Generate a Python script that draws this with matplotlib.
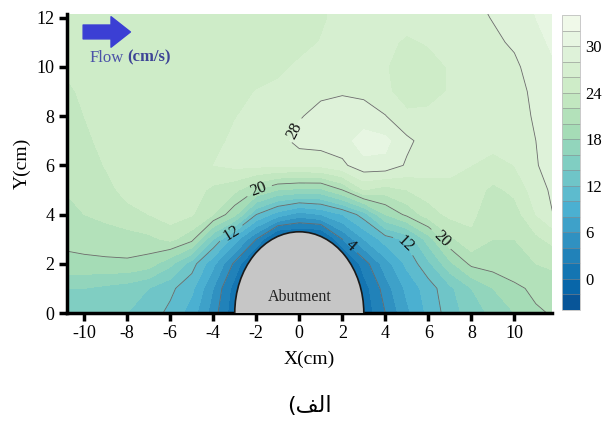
import numpy as np
import matplotlib
matplotlib.use("Agg")
import matplotlib.pyplot as plt
from matplotlib.colors import ListedColormap
from matplotlib.patches import Ellipse, FancyArrowPatch

plt.rcParams['font.family'] = ['Liberation Serif', 'DejaVu Sans']
plt.rcParams['axes.unicode_minus'] = False

# ---- data (velocity field, cm/s) ----
x_grid = [-11, -10, -9, -8, -7, -6, -5, -4, -3, -2, -1, 0, 1, 2, 3, 4, 5, 6, 7, 8, 9, 10, 11, 12]
y_grid = [0, 1, 2, 3, 4, 5, 6, 7, 8, 9, 10, 11, 12, 13]
v_y0 = [15, 15, 14.5, 14, 13, 11.5, 9, 5, 0.5, -2, -2, -2, -2, -2, 0.5, 4, 7.5, 10.5, 13, 15, 16.5, 18, 19.7, 20.3]
v_y1 = [16, 16, 15.5, 15, 14, 12.5, 10.5, 6, 1, -2, -2, -2, -2, -2, 1, 5, 8.5, 11, 13.5, 16, 18, 19.5, 20.5, 21]
v_y2 = [19.4, 19.5, 19.6, 19.7, 19, 16.5, 13, 8.5, 3.5, -2, -2, -2, -2, -2, 3, 7, 10.5, 13.5, 17.5, 20.5, 21, 21.5, 22, 22.5]
v_y3 = [20.5, 20.8, 21, 21, 21.5, 22.5, 20.7, 14, 9, 4, -2, -2, -2, 4, 8, 11, 12.5, 17, 21.5, 23.5, 22, 22, 23.5, 25]
v_y4 = [21.5, 22, 22.5, 23.5, 24, 25, 24.2, 22, 18.5, 12, 9, 7, 8, 10, 13, 18, 20.5, 23, 24.5, 24.5, 22.5, 23, 26, 28.5]
v_y5 = [22, 22.5, 23.5, 24.5, 25, 25.2, 25, 23.5, 22.5, 20, 18, 17.5, 17.5, 20, 24, 23, 24, 25, 25.5, 25, 23.5, 24.5, 27, 28.8]
v_y6 = [22.5, 23.2, 24.1, 24.5, 25, 25.5, 25.5, 26, 26.5, 26.5, 26.3, 26.3, 26.5, 27.5, 29.5, 29.5, 27.7, 27, 26.5, 26, 25.5, 26, 27.8, 29.5]
v_y7 = [23, 23.7, 24.4, 24.8, 25, 25, 25.3, 25.7, 26.2, 26.5, 27, 28.8, 29, 29.3, 30.8, 30.5, 28.5, 27, 26.5, 26.5, 26.5, 27, 28, 29.5]
v_y8 = [23.3, 24, 24.6, 25, 25, 25, 25, 25.3, 25.95, 26.3, 26.8, 27.8, 28.8, 29, 29, 28.1, 26.2, 26.3, 26.7, 26.8, 26.8, 27, 28.3, 29.5]
v_y9 = [23.7, 24.2, 24.8, 25, 25, 25, 25, 25, 25.4, 26.05, 26.3, 27, 27.5, 27.8, 27.5, 26.2, 25.5, 25.5, 26.1, 26.8, 27.2, 27.4, 28.4, 29.5]
v_y10 = [24.1, 24.5, 25, 25, 25, 25, 25, 25, 25.1, 25.3, 25.7, 26.2, 26.5, 27, 26.8, 26.1, 25.3, 25.5, 26.1, 26.8, 27.2, 27.6, 29, 30]
v_y11 = [24.5, 24.8, 25, 25, 25, 25, 25, 25, 25, 25.2, 25.4, 25.6, 26.05, 26.6, 26.6, 26.3, 25.8, 26.1, 26.5, 27, 27.6, 28.3, 29.5, 30.5]
v_y12 = [24.8, 25, 25, 25, 25, 25, 25, 25, 25, 25.1, 25.2, 25.3, 25.8, 26.4, 26.5, 26.5, 26.5, 26.6, 26.8, 27.4, 28.1, 29.2, 30, 30.5]
v_y13 = [25, 25, 25, 25, 25, 25, 25, 25, 25, 25.1, 25.2, 25.3, 25.8, 26.4, 26.5, 26.6, 26.7, 26.8, 27.2, 27.8, 28.6, 29.5, 30.2, 30.5]

fill_levels = list(range(-4, 36, 2))
line_levels = [4, 12, 20, 28]
cbar_ticks = [0, 6, 12, 18, 24, 30]
x_ticks = [-10, -8, -6, -4, -2, 0, 2, 4, 6, 8, 10]
y_ticks = [0, 2, 4, 6, 8, 10, 12]
label_points = [(-0.4, 7.5), (-1.9, 5.1), (-3.2, 3.3), (2.2, 2.55), (4.9, 2.8), (6.6, 3.0)]

V = np.array([v_y0, v_y1, v_y2, v_y3, v_y4, v_y5, v_y6, v_y7, v_y8, v_y9,
              v_y10, v_y11, v_y12, v_y13])
X, Y = np.meshgrid(x_grid, y_grid)

# ---- figure ----
W, H = 602, 425
fig = plt.figure(figsize=(W / 100, H / 100), dpi=100)
ax = fig.add_axes([67 / W, 112 / H, 485 / W, 299 / H])
cax = fig.add_axes([562 / W, 115 / H, 18 / W, 295 / H])

cols = plt.get_cmap('GnBu')(np.linspace(0.93, 0.04, len(fill_levels) - 1))
cmap = ListedColormap(cols)

cf = ax.contourf(X, Y, V, levels=fill_levels, cmap=cmap, zorder=1)
cs = ax.contour(X, Y, V, levels=line_levels, colors='#6a6a6a', linewidths=0.6, zorder=2)
labels = ax.clabel(cs, fmt='%d', fontsize=12, colors='#111111', manual=label_points, inline=True)
for t in labels:
    t.set_fontfamily('Liberation Serif')

abut = Ellipse((0, 0), 6, 6.6, facecolor='#c6c6c6', edgecolor='#1a1a1a', lw=1.2, zorder=3)
ax.add_patch(abut)
ax.text(0, 0.65, 'Abutment', ha='center', va='center', fontsize=11.5, color='#222222', zorder=4)

arrow = FancyArrowPatch((-10.05, 11.42), (-7.85, 11.42),
                        arrowstyle='simple,head_length=0.7,head_width=1.1,tail_width=0.5',
                        mutation_scale=20, color='#3b3fd4', shrinkA=0, shrinkB=0, zorder=5)
ax.add_patch(arrow)
flow_txt = ax.text(-9.77, 10.37, 'Flow', ha='left', va='center', fontsize=12,
                   color='#4b52a8', zorder=5)
ax.annotate('(cm/s)', xy=(1, 0.5), xycoords=flow_txt, xytext=(3, 0),
            textcoords='offset points', ha='left', va='center', fontsize=12,
            color='#3e4596', fontweight='bold', zorder=5)

ax.set_xlim(-10.8, 11.75)
ax.set_ylim(0, 12.15)
ax.set_xticks(x_ticks)
ax.set_yticks(y_ticks)
for s in ['top', 'right']:
    ax.spines[s].set_visible(False)
for s in ['left', 'bottom']:
    ax.spines[s].set_linewidth(2.5)
ax.tick_params(direction='out', length=6, width=2.5, labelsize=13, pad=3)
ax.set_xlabel('X(cm)', fontsize=14, labelpad=6)
ax.set_ylabel('Y(cm)', fontsize=14, labelpad=4)

cb = fig.colorbar(cf, cax=cax, ticks=cbar_ticks, drawedges=True)
cb.outline.set_edgecolor('#c0c0c0')
cb.outline.set_linewidth(0.6)
cb.dividers.set_color('#8a8a8a')
cb.dividers.set_linewidth(0.4)
cax.tick_params(length=0, labelsize=12, pad=4)

# Persian caption "الف)" written in visual order with Arabic presentation forms
fig.text(309 / W, 1 - 406 / H, '(\uFED2\uFEDF\uFE8D', ha='center', va='center',
         fontsize=16, family=['DejaVu Sans'])

fig.savefig('out.png', dpi=100)
